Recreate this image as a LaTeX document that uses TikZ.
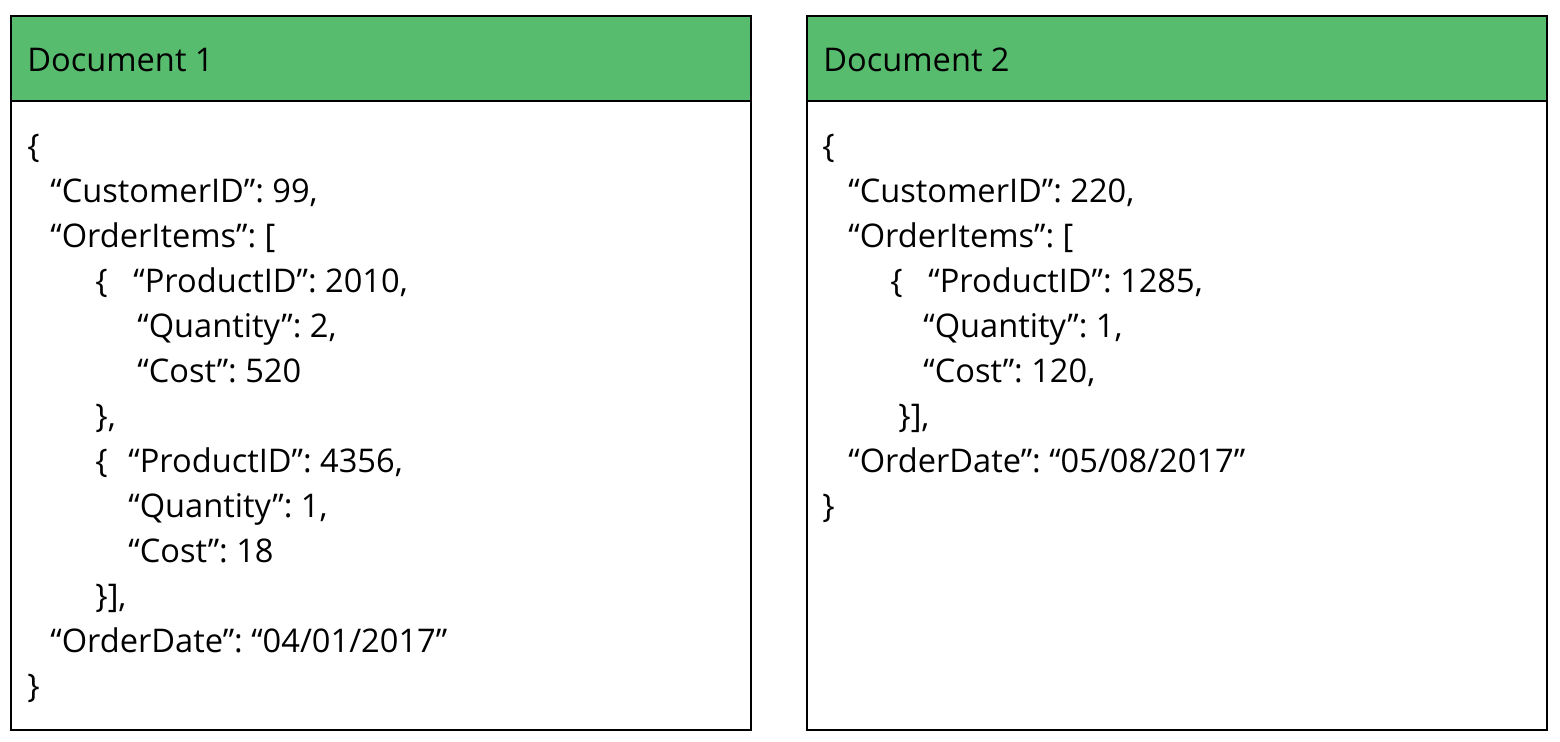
\documentclass[tikz,border=0pt]{standalone}
\usepackage{fontspec}
\setmainfont{Open Sans}
\frenchspacing
\definecolor{docgreen}{RGB}{88,188,110}
\tikzset{
  docbox/.style={draw=black, line width=1pt, fill=white},
  dochead/.style={draw=black, line width=1pt, fill=docgreen},
  jline/.style={anchor=base west, inner sep=0pt, font=\fontsize{16.3}{18}\selectfont}
}
\begin{document}
\begin{tikzpicture}[x=0.5pt,y=-0.5pt]
\useasboundingbox (0,0) rectangle (1560,742);
% Document 1
\draw [docbox] (11,16) rectangle (751,730);
\draw [dochead] (11,16) rectangle (751,101);
\node [jline] (head1) at (27,72) {Document 1};
\node [jline] (a0) at (27,158) {\{};
\node [jline] (a1) at (50,203) {“CustomerID”: 99,};
\node [jline] (a2) at (50,248) {“OrderItems”: [};
\node [jline] (a3) at (95,293) {\{};
\node [jline] (a3b) at (133,293) {“ProductID”: 2010,};
\node [jline] (a4) at (137,338) {“Quantity”: 2,};
\node [jline] (a5) at (137,383) {“Cost”: 520};
\node [jline] (a6) at (95,428) {\},};
\node [jline] (a7) at (95,473) {\{};
\node [jline] (a7b) at (128,473) {“ProductID”: 4356,};
\node [jline] (a8) at (128,518) {“Quantity”: 1,};
\node [jline] (a9) at (128,563) {“Cost”: 18};
\node [jline] (a10) at (95,608) {\}],};
\node [jline] (a11) at (50,653) {“OrderDate”: “04/01/2017”};
\node [jline] (a12) at (27,698) {\}};
% Document 2
\draw [docbox] (807,16) rectangle (1547,730);
\draw [dochead] (807,16) rectangle (1547,101);
\node [jline] (head2) at (823,72) {Document 2};
\node [jline] (b0) at (822,158) {\{};
\node [jline] (b1) at (848,203) {“CustomerID”: 220,};
\node [jline] (b2) at (848,248) {“OrderItems”: [};
\node [jline] (b3) at (890,293) {\{};
\node [jline] (b3b) at (928,293) {“ProductID”: 1285,};
\node [jline] (b4) at (923,338) {“Quantity”: 1,};
\node [jline] (b5) at (923,383) {“Cost”: 120,};
\node [jline] (b6) at (898,428) {\}],};
\node [jline] (b7) at (848,473) {“OrderDate”: “05/08/2017”};
\node [jline] (b8) at (822,518) {\}};
\end{tikzpicture}
\end{document}
